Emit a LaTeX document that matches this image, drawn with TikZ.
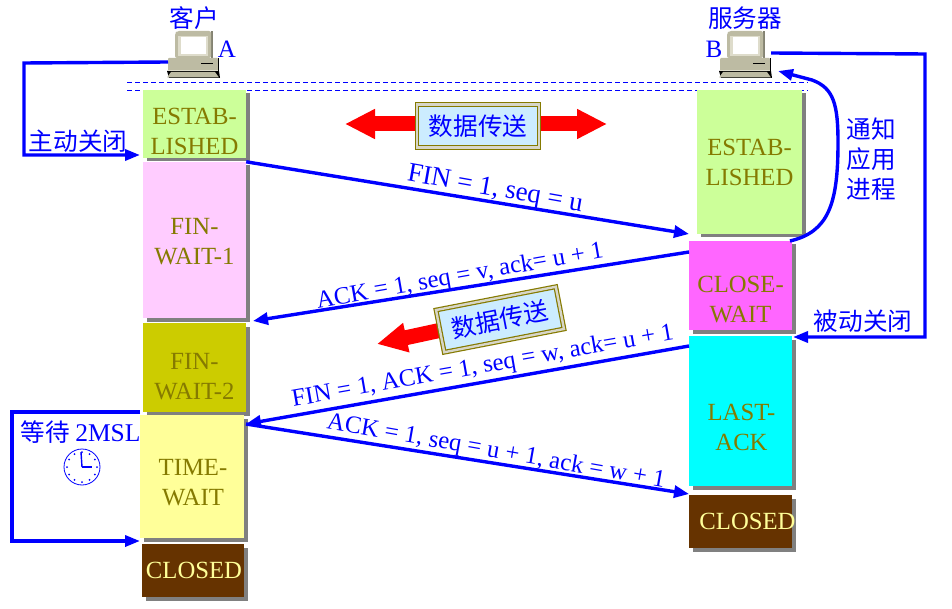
\documentclass[tikz,border=0pt]{standalone}
\usepackage{fontspec}
\setmainfont{Liberation Serif}
\newfontfamily\cjk{Noto Sans CJK SC}
\usetikzlibrary{arrows.meta,shadows}
\definecolor{labelblue}{HTML}{0000FF}
\definecolor{stateolive}{HTML}{857A00}
\definecolor{pcbody}{HTML}{BDBBA3}
\definecolor{pcscreen}{HTML}{DEDCCB}
\definecolor{boxblue}{HTML}{CCECFF}
\definecolor{estabgreen}{HTML}{CCFF99}
\definecolor{waitpink}{HTML}{FFCCFF}
\definecolor{waitolive}{HTML}{CCCC00}
\definecolor{timeyellow}{HTML}{FFFF99}
\definecolor{closedbrown}{HTML}{663300}
\definecolor{closemagenta}{HTML}{FF66FF}
\definecolor{ackcyan}{HTML}{00FFFF}
\tikzset{
  statetext/.style={inner sep=0pt,align=center,text=stateolive,
    font=\fontsize{24.7}{30}\selectfont},
  statebox/.style={inner sep=0pt,
    drop shadow={shadow xshift=3.5pt,shadow yshift=-3.5pt,fill=gray,opacity=1}},
  closedbox/.style={statebox,fill=closedbrown,minimum width=102pt,minimum height=53pt},
  closedtext/.style={statetext,text=timeyellow},
  thick line/.style={draw=labelblue,line width=3.4pt,line join=miter},
  flow/.style={thick line,-{Triangle[length=15pt,width=11pt]}},
  flow thin/.style={draw=labelblue,line width=3.4pt,-{Triangle[length=15pt,width=12pt]}},
  msg/.style={inner sep=0pt,text=labelblue,font=\fontsize{24.7}{26}\selectfont},
  cn/.style={inner sep=0pt,text=labelblue,align=center,font=\cjk\fontsize{24.6}{30}\selectfont},
  red flow/.style={draw=red,line width=15pt,-{Triangle[length=30pt,width=28pt]}},
  databox/.style={draw=stateolive,double=pcbody!60,double distance=2.4pt,line width=1.2pt,
    fill=boxblue,minimum width=122pt,minimum height=43pt,inner sep=0pt,
    text=labelblue,font=\cjk\fontsize{24.6}{30}\selectfont},
  pics/computer/.style={code={
    \fill[black] (-24,23) -- (-26,16) -- (26,16) -- (27,23) -- cycle;
    \fill[pcbody!70!black] (18,-24) rectangle (20,3);
    \fill[pcbody] (-18,-22) [rounded corners=2pt] -- (-18,3) -- (18,3) -- (18,-24) -- (-16,-24) -- cycle;
    \fill[pcscreen] (-15,-19) rectangle (15,1);
    \fill[white] (-12,-18) rectangle (13,-1);
    \fill[pcbody] (-25,3) [rounded corners=1pt] -- (-25,16) -- (25,16) -- (25,3) -- cycle;
    \fill[black] (25,3) rectangle (26,17);
    \fill[pcscreen] (-25,15) rectangle (25,16.5);
    \fill[pcbody] (-22,17) -- (-26,22.5) -- (26,22.5) -- (22,17) -- cycle;
    \draw[black,line width=0.8pt] (8,8) -- (20,8);
  }}
}
\begin{document}
\begin{tikzpicture}[x=1pt,y=-1pt]
\useasboundingbox (0,0) rectangle (952,609);
% hosts
\pic at (193,55) {computer};
\pic at (745,55) {computer};
\node[cn] (client) at (194,18) {客户};
\node[cn] (server) at (745,18) {服务器};
\node[msg,font=\fontsize{25}{26}\selectfont] (hostA) at (227,49) {A};
\node[msg,font=\fontsize{25}{26}\selectfont] (hostB) at (714,49) {B};
% dashed lines
\coordinate (dash1l) at (127,82);
\coordinate (dash1r) at (808,82);
\coordinate (dash2l) at (127,90);
\coordinate (dash2r) at (808,90);
\draw[labelblue,dash pattern=on 5pt off 3pt,line width=0.8pt] (dash1l) to (dash1r);
\draw[labelblue,dash pattern=on 5pt off 3pt,line width=0.8pt] (dash2l) to (dash2r);
% client states
\node[statebox,fill=estabgreen,minimum width=103pt,minimum height=68pt,
  label={[statetext,yshift=-7pt]center:ESTAB-\\LISHED}] (estabA) at (194.5,124) {};
\node[statebox,fill=waitpink,minimum width=103pt,minimum height=156pt,
  label={[statetext,yshift=-2pt]center:FIN-\\WAIT-1}] (wait1) at (194.5,240) {};
\node[statebox,fill=waitolive,minimum width=103pt,minimum height=89pt,
  label={[statetext,yshift=-9pt]center:FIN-\\WAIT-2}] (wait2) at (194.5,367.5) {};
\node[statebox,fill=timeyellow,minimum width=104pt,minimum height=123pt,
  label={[statetext,xshift=1pt,yshift=-6pt]center:TIME-\\WAIT}] (timewait) at (192,476.5) {};
\node[closedbox,label={[closedtext,xshift=1pt]center:CLOSED}] (closedA) at (193,570.5) {};
% server states
\node[statebox,fill=estabgreen,minimum width=105pt,minimum height=144pt,
  label={[statetext]center:ESTAB-\\LISHED}] (estabB) at (749.5,162) {};
\node[statebox,fill=closemagenta,minimum width=103pt,minimum height=89pt,
  label={[statetext,yshift=-14pt]center:CLOSE-\\WAIT}] (closewait) at (740.5,285.5) {};
\node[statebox,fill=ackcyan,minimum width=103pt,minimum height=150pt,
  label={[statetext,xshift=1pt,yshift=-16pt]center:LAST-\\ACK}] (lastack) at (740.5,411) {};
\node[closedbox,minimum width=103pt,label={[closedtext,xshift=7pt]center:CLOSED}] (closedB) at (740.5,521.5) {};
% data transfer
\coordinate (dataL) at (345,124);
\coordinate (dataR) at (607,124);
\coordinate (dataC) at (478,126);
\coordinate (dataM) at (476,124);
\coordinate (dataT) at (377,344);
\coordinate (dataS) at (460,326);
\draw[red flow] (dataM) to (dataL);
\draw[red flow] (dataM) to (dataR);
\node[databox] (data1) at (dataC) {数据传送};
\draw[red flow] (dataS) to (dataT);
\node[databox,rotate=11] (data2) at (500,319.5) {数据传送};
% messages
\coordinate (finEnd) at (689,234);
\coordinate (ackEnd) at (253,321);
\coordinate (ackStart) at (689,252);
\coordinate (fin2Start) at (689,346);
\coordinate (tw) at (246,424);
\coordinate (ack2End) at (689,494);
\draw[flow thin] (wait1.north east) to (finEnd);
\draw[flow thin] (ackStart) to (ackEnd);
\draw[flow thin] (fin2Start) to (tw);
\draw[flow thin] (tw) to (ack2End);
\node[msg,rotate=-10,font=\fontsize{27}{30}\selectfont] (msg1) at (495,190) {FIN = 1, seq = u};
\node[msg,rotate=10] (msg2) at (460,277) {ACK = 1, seq = v, ack= u + 1};
\node[msg,rotate=10] (msg3) at (483,367) {FIN = 1, ACK = 1, seq = w, ack= u + 1};
\node[msg,rotate=-10] (msg4) at (496,452) {ACK = 1, seq = u + 1, ack = w + 1};
% side loops
\coordinate (pcA) at (168,62);
\coordinate (leftA1) at (24,63);
\coordinate (leftA2) at (24,155);
\coordinate (endA) at (140,155);
\draw[flow] (pcA) to (leftA1) to (leftA2) to (endA);
\node[cn] (close1) at (78,141) {主动关闭};
\coordinate (pcB) at (771,53);
\coordinate (rightB1) at (925,54);
\coordinate (rightB2) at (925,337);
\coordinate (endB) at (793,337);
\draw[flow] (pcB) to (rightB1) to (rightB2) to (endB);
\node[cn] (close2) at (863,321) {被动关闭};
\coordinate (notifyS) at (790,241);
\coordinate (notifyE) at (778,71);
\draw[flow] (notifyS) .. controls (828,232) and (838,205) .. (838,143) .. controls (838,105) and (834,88) .. (812,80) to (notifyE);
\node[cn] (notify) at (871,159) {通知\\应用\\进程};
\coordinate (twS) at (140,412);
\coordinate (twL1) at (12,412);
\coordinate (twL2) at (12,541);
\coordinate (twE) at (140,541);
\draw[flow] (twS) to (twL1) to (twL2) to (twE);
\node[cn] (wait) at (80.5,432) {等待 {\rmfamily\fontsize{25.5}{30}\selectfont 2MSL}};
% clock
\node[circle,draw=labelblue,line width=0.8pt,minimum size=36pt,inner sep=0pt] (clock) at (82,467) {};
\foreach \a in {0,30,...,330}
  \fill[labelblue] (clock.center) ++(\a:15) circle (1);
\coordinate (hour) at (92,467);
\coordinate (minute) at (81,452);
\draw[labelblue,line width=1.4pt] (clock.center) to (minute);
\draw[labelblue,line width=1.4pt] (clock.center) to (hour);
\end{tikzpicture}
\end{document}
